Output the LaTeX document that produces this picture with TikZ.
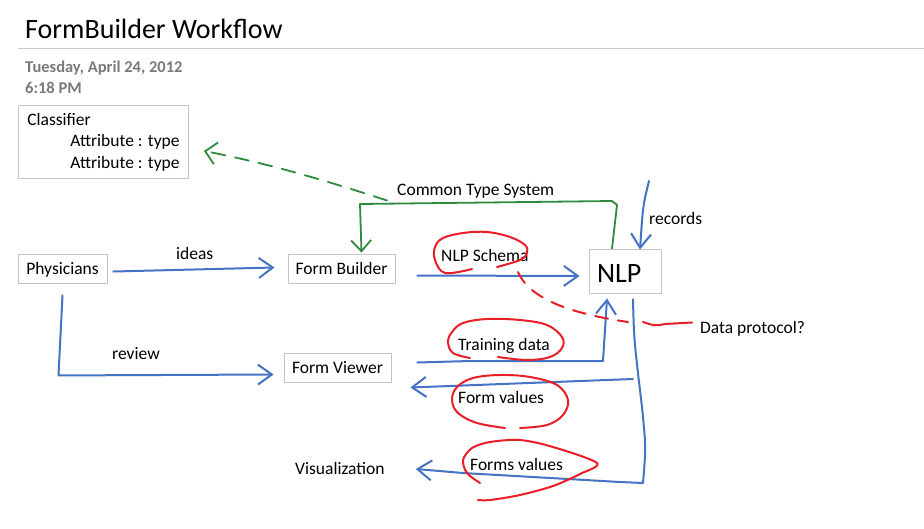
\documentclass[tikz,border=0pt]{standalone}
\usepackage{fontspec}
\setmainfont{Carlito}
\usetikzlibrary{arrows.meta}
\definecolor{pen}{RGB}{68,114,196}
\definecolor{redpen}{RGB}{234,30,38}
\definecolor{greenpen}{RGB}{48,138,62}
\definecolor{boxgray}{RGB}{196,196,196}
\definecolor{dategray}{RGB}{122,122,122}
\tikzset{
  txt/.style={font=\fontsize{17.5}{21.5}\selectfont, inner sep=0pt, text height=12pt, text depth=3pt, anchor=base west},
  boxed/.style={draw=boxgray, line width=0.9pt, font=\fontsize{17.5}{21.5}\selectfont, inner sep=0pt, text height=15pt, text depth=3pt, minimum height=29pt},
  bluepen/.style={draw=pen, line width=2pt, line cap=round, line join=round},
  greenln/.style={draw=greenpen, line width=1.8pt, line cap=round, line join=round},
  redln/.style={draw=redpen, line width=2pt, line cap=round, line join=round},
  barb/.style={-{Straight Barb[length=14pt,width=20pt]}},
}
\begin{document}
\begin{tikzpicture}[x=1pt,y=-1pt]
\useasboundingbox[fill=white] (0,0) rectangle (924,528);

% header
\node[anchor=base west, inner sep=0pt, font=\fontsize{28}{34}\selectfont] (title) at (25,38) {FormBuilder Workflow};
\coordinate (ruleL) at (18,48);
\coordinate (ruleR) at (924,48);
\draw[draw=boxgray!90, line width=1pt] (ruleL) -- (ruleR);
\node[anchor=base west, inner sep=0pt, text=dategray, font=\bfseries\fontsize{16.5}{21}\selectfont] (date) at (25,72) {Tuesday, April 24, 2012};
\node[anchor=base west, inner sep=0pt, text=dategray, font=\bfseries\fontsize{16.5}{21}\selectfont] (time) at (25,93) {6:18 PM};

% classifier
\node[draw=boxgray, line width=0.9pt, anchor=north west, minimum width=170pt, minimum height=73pt,
      inner xsep=6pt, inner ysep=0pt, align=left,
      font=\fontsize{17.5}{21.5}\selectfont] (cls) at (18,105)
  {Classifier\\\hspace*{43pt}Attribute : type\\\hspace*{43pt}Attribute : type};

% boxes
\node[boxed, minimum width=89pt] (phys) at (62.5,268.5) {Physicians};
\node[boxed, minimum width=107pt] (fb) at (341.5,268.5) {Form Builder};
\node[boxed, minimum width=107pt] (fv) at (337.5,367.5) {Form Viewer};
\node[draw=boxgray, line width=0.9pt, minimum height=44pt, text width=56pt, inner xsep=8pt, inner ysep=0pt,
      align=left, text height=24pt, text depth=2pt, font=\fontsize{28}{30}\selectfont] (nlp) at (625,271) {NLP};

% plain labels
\node[txt] (viz) at (295,474) {Visualization};
\node[txt] (ideas) at (176,259) {ideas};
\node[txt] (review) at (112,359) {review};
\node[txt] (cts) at (397,195) {Common Type System};
\node[txt] (rec) at (649,224) {records};
\node[txt] (schema) at (441,261) {NLP Schema};
\node[txt] (dp) at (700,333) {Data protocol?};
\node[txt] (train) at (458,350) {Training data};
\node[txt] (fvals) at (458,403) {Form values};
\node[txt] (fsvals) at (470,470) {Forms values};

% blue connectors
\draw[bluepen, barb] ([xshift=6pt,yshift=-3pt]phys.east) -- ([xshift=-13pt,yshift=1pt]fb.west);
\draw[bluepen, barb] ([yshift=-12pt]phys.south) -- ++(-4,80) -- ([xshift=-10pt,yshift=-7pt]fv.west);
\draw[bluepen, barb] ([xshift=22pt,yshift=-7pt]fb.east) -- ([xshift=-9pt,yshift=-5pt]nlp.west);
\coordinate (rec0) at (649,181);
\draw[bluepen, barb] (rec0) .. controls (643,205) .. ([xshift=15pt,yshift=-1pt]nlp.north);
\coordinate (tr1) at (603,361);
\draw[bluepen, barb] ([xshift=26pt,yshift=5pt]fv.east) -- (470,361) -- (tr1) -- ([xshift=-18pt,yshift=-5pt]nlp.south);
\coordinate (fv0) at (633,379);
\draw[bluepen, barb] (fv0) -- ([xshift=19pt,yshift=-20pt]fv.east);
\coordinate (vz1) at (642,407);
\coordinate (vz2) at (643,483);
\draw[bluepen, barb] ([xshift=8pt,yshift=-6pt]nlp.south) .. controls (634,340) .. (vz1) .. controls (646,447) .. (vz2)
   -- (620,482) -- (463,473) -- ([xshift=31pt,yshift=0.5pt]viz.east);

% green connectors
\coordinate (g1) at (617,205);
\coordinate (g2) at (612,201);
\coordinate (g3) at (360,204);
\draw[greenln, -{Straight Barb[length=11pt,width=20pt]}] ([xshift=-13pt]nlp.north) -- (g1) -- (g2) -- (g3) -- ([xshift=20pt,yshift=1pt]fb.north);
\draw[greenln, dash pattern=on 14pt off 10pt, -{Straight Barb[length=11pt,width=22pt]}]
   ([xshift=-10pt,yshift=-10pt]cts.west) .. controls (300,172) and (250,160) .. ([xshift=15pt,yshift=-9pt]cls.east);

% red marks
\draw[redln, dash pattern=on 13pt off 10pt] (518,272) .. controls (528,295) and (560,312) .. (628,322);
\draw[redln] (643,322) .. controls (655,326) .. (665,324) -- ([xshift=-8pt,yshift=6pt]dp.west);
\draw[redln] plot[smooth, tension=0.6] coordinates {(472,269) (445,273) (435,260) (435,247) (443,238) (463,233) (487,232) (510,237) (525,245) (527,253) (520,260) (497,267)};
\draw[redln] plot[smooth, tension=0.6] coordinates {(470,358) (453,353) (448,342) (452,332) (463,323) (487,319) (520,320) (547,325) (562,337) (562,348) (550,357) (527,360) (498,357)};
\draw[redln] plot[smooth, tension=0.6] coordinates {(505,428) (477,423) (458,413) (452,400) (457,387) (473,378) (500,375) (530,377) (557,385) (568,400) (563,415) (547,425) (520,428)};
\draw[redln] plot[smooth, tension=0.5] coordinates {(480,483) (467,473) (463,460) (472,448) (490,442) (520,440) (553,447) (597,463) (580,474) (553,486) (520,495) (490,500) (478,500)};
\end{tikzpicture}
\end{document}
